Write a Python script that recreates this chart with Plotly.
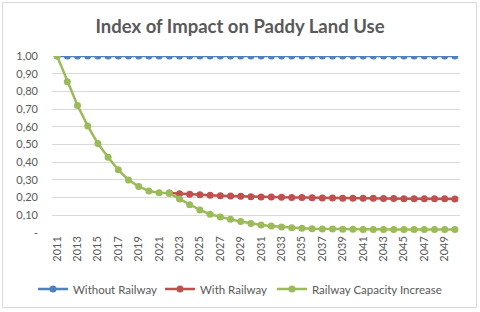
import plotly.graph_objects as go

years = list(range(2011, 2051))

without_railway = [1.00] * 40

with_railway = [None] * 11 + [
    0.226, 0.222, 0.219, 0.216, 0.213, 0.211, 0.209, 0.207, 0.205, 0.204,
    0.203, 0.202, 0.201, 0.200, 0.199, 0.198, 0.198, 0.197, 0.197, 0.196,
    0.196, 0.195, 0.195, 0.194, 0.194, 0.193, 0.193, 0.193, 0.192,
]

capacity_increase = [
    1.00, 0.855, 0.72, 0.605, 0.505, 0.428, 0.357, 0.300, 0.263, 0.237,
    0.228, 0.224, 0.192, 0.160, 0.130, 0.106, 0.090, 0.077, 0.065, 0.054,
    0.045, 0.039, 0.034, 0.030, 0.027, 0.024, 0.023, 0.022, 0.021, 0.021,
    0.020, 0.020, 0.020, 0.020, 0.020, 0.020, 0.020, 0.020, 0.020, 0.020,
]

y_ticks = [0, 0.1, 0.2, 0.3, 0.4, 0.5, 0.6, 0.7, 0.8, 0.9, 1.0]
y_labels = ["-", "0,10", "0,20", "0,30", "0,40", "0,50", "0,60", "0,70", "0,80", "0,90", "1,00"]
x_ticks = list(range(2011, 2050, 2))

series = [
    ("Without Railway", without_railway, "#4F81BD", "legend", 33),
    ("With Railway", with_railway, "#C0504D", "legend2", 160),
    ("Railway Capacity Increase", capacity_increase, "#9BBB59", "legend3", 272),
]

text_color = "#595959"
font = "Lato, Liberation Sans, Arial, sans-serif"

W, H = 480, 312
ml, mr, mt, mb = 52, 20, 56, 79
pw, ph = W - ml - mr, H - mt - mb

def px_x(p):
    return (p - ml) / pw

def px_y(p):
    return (H - mb - p) / ph

fig = go.Figure()
legends = {}
for name, vals, color, leg, lx in series:
    fig.add_trace(go.Scatter(
        x=years, y=vals, name=name, mode="lines+markers",
        line=dict(color=color, width=2.5),
        marker=dict(color=color, size=7),
        legend=leg,
    ))
    legends[leg] = dict(orientation="h", x=lx / W, xanchor="left", xref="container",
                        y=1 - 289 / H, yref="container", yanchor="middle",
                        bgcolor="rgba(0,0,0,0)",
                        font=dict(family=font, size=11.5, color=text_color))

fig.update_layout(
    width=W, height=H,
    margin=dict(l=ml, r=mr, t=mt, b=mb, autoexpand=False),
    paper_bgcolor="white", plot_bgcolor="white",
    title=dict(text="<b>Index of Impact on Paddy Land Use</b>", x=0.5, xanchor="center",
               y=1 - 27 / H, yanchor="middle",
               font=dict(family=font, size=18.5, color=text_color)),
    font=dict(family=font, size=11, color=text_color),
    showlegend=True,
    xaxis=dict(range=[2010.5, 2050.5], tickvals=x_ticks, ticktext=[str(v) for v in x_ticks],
               tickangle=-90, showgrid=False, zeroline=False, automargin=False,
               showline=False, ticks="", tickfont=dict(size=11, color=text_color)),
    yaxis=dict(range=[0, 1.0], tickvals=y_ticks, ticktext=y_labels, automargin=False,
               showgrid=True, gridcolor="#D9D9D9", gridwidth=1, zeroline=False,
               ticks="", tickfont=dict(size=11, color=text_color), ticklabelstandoff=13),
    shapes=[dict(type="rect", xref="paper", yref="paper",
                 x0=px_x(2.5), x1=px_x(476.5), y0=px_y(307.5), y1=px_y(2.5),
                 line=dict(color="#D9D9D9", width=1), layer="below")],
    **legends,
)

fig.write_html("out.html", config={"displayModeBar": False},
               post_script="document.body.style.margin='0';document.body.style.overflow='hidden';")
